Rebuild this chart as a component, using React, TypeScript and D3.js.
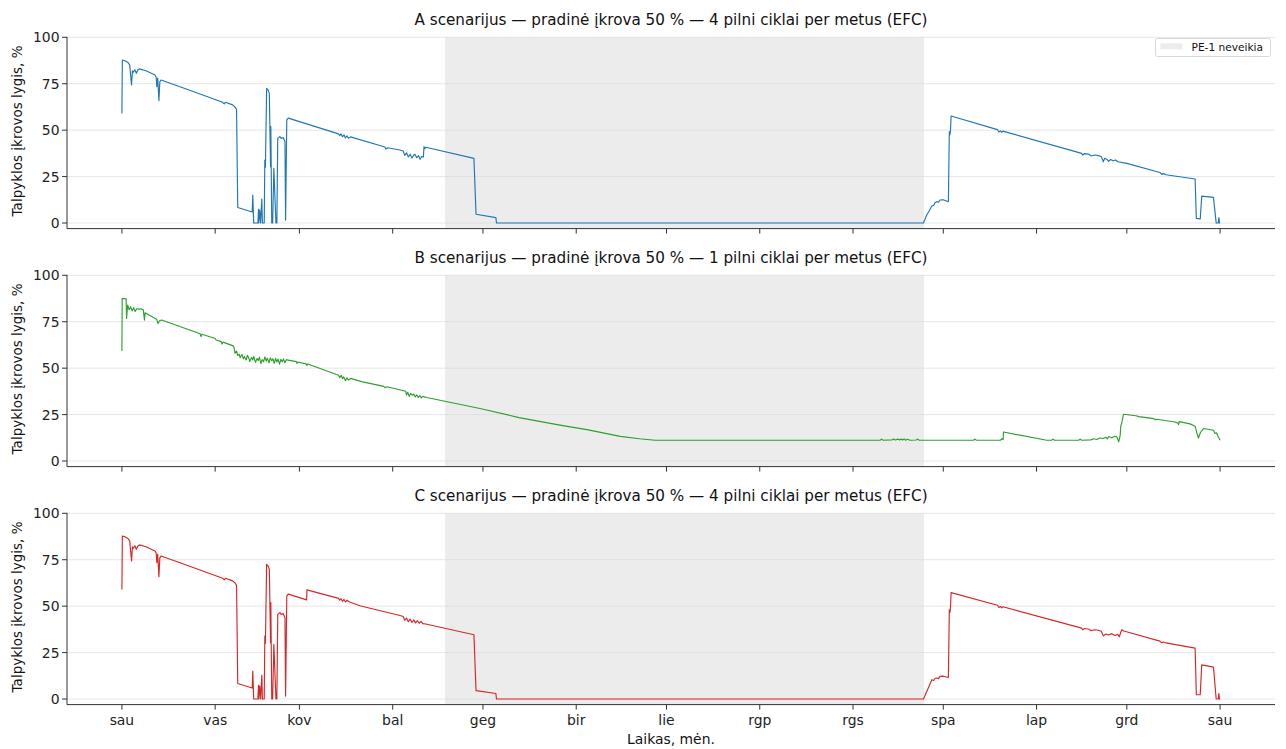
import React from "react";
import * as d3 from "d3";

type P = [number, number];

const monthLabels = ["sau", "vas", "kov", "bal", "geg", "bir", "lie", "rgp", "rgs", "spa", "lap", "grd", "sau"];
const monthDays = [0, 31, 59, 90, 120, 151, 181, 212, 243, 273, 304, 334, 365];
const yTicks = [0, 25, 50, 75, 100];
const outageSpan: P = [107.4, 266.6];
const legendLabel = "PE-1 neveikia";
const titles = [
  "A scenarijus — pradinė įkrova 50 % — 4 pilni ciklai per metus (EFC)",
  "B scenarijus — pradinė įkrova 50 % — 1 pilni ciklai per metus (EFC)",
  "C scenarijus — pradinė įkrova 50 % — 4 pilni ciklai per metus (EFC)",
];
const colors = ["#1f77b4", "#2ca02c", "#d62728"];

const startCommon: P[] = [
  [0, 59], [0.15, 87.8], [1.2, 87.2], [2.1, 86.3], [2.6, 85], [3.2, 74.3], [3.5, 82], [3.8, 81.2],
  [4.3, 82.5], [4.8, 80.6], [5.3, 82.4], [5.8, 83], [8, 82], [11, 79.7], [11.4, 78.5], [11.6, 73.4],
  [11.9, 78], [12.3, 65.9], [12.6, 76], [13, 77], [20, 73], [28, 68.3], [33.5, 65], [34, 64.2],
  [34.4, 65], [36.8, 63.6], [37.6, 62.5], [38.1, 61.2], [38.5, 8.4], [43.3, 5.9], [43.5, 15], [43.8, 0],
  [45.2, 0], [45.4, 7.4], [45.5, 0], [45.8, 7], [46.1, 0], [46.5, 12.9], [46.7, 0], [47.3, 0],
  [47.5, 33.9], [47.7, 30], [48.1, 72.5], [48.6, 71.6], [49, 69.8], [49.4, 30.3], [49.5, 51.9], [49.8, 0],
  [50.1, 0], [50.5, 29.4], [51.2, 0], [51.5, 0], [51.8, 45.6], [52.5, 46.5], [53, 45.5], [53.6, 46],
  [54.2, 43.8], [54.4, 1.6], [54.8, 55.5], [55.3, 56.5],
];

const seriesA: P[] = [
  ...startCommon,
  [69.1, 49.5], [72, 48], [72.4, 47], [72.8, 48], [73.3, 46.4], [73.8, 47.5], [74.3, 45.8], [74.8, 47],
  [75.3, 45.6], [76, 46.4], [87.4, 40.9], [87.8, 39.8], [88.2, 40.5], [92.4, 39.3], [93.5, 38.8],
  [94, 36.4], [94.6, 37.8], [95.2, 35.6], [95.8, 37], [96.4, 35], [97, 36.6], [97.4, 37], [98, 35.2],
  [98.6, 36.3], [99.1, 34.3], [99.6, 35.8], [100.2, 35.5], [100.4, 41.1], [100.7, 40], [101, 40.8],
  [117, 34.8], [117.7, 4.7], [124.3, 2.9], [124.5, 0], [266.4, 0], [267.5, 4.3], [268.3, 6.5],
  [269.2, 9.2], [269.8, 9.5], [270.3, 11], [270.8, 11.5], [271.4, 11.2], [271.9, 12.4], [273, 12.5],
  [274.7, 11.5], [275, 49.2], [275.2, 47.5], [275.4, 50], [275.6, 57.6], [291, 50.3], [291.5, 49],
  [292, 49.6], [292.4, 48.8], [292.8, 49.5], [319, 37.5], [319.3, 36.6], [320, 37.4], [321.5, 37],
  [322, 36.1], [323.5, 36.6], [324.5, 36.3], [325.5, 35.8], [326.2, 33], [326.6, 34.8], [327.4, 34.3],
  [328, 33.2], [328.6, 34.2], [329.5, 33.5], [330.3, 33.9], [331, 33], [334, 32.1], [345, 27.2],
  [345.6, 26.2], [346.2, 26.6], [347, 26], [356.7, 23.7], [357.1, 2.5], [358.4, 2.2], [358.9, 14.5],
  [362.8, 13.8], [363.7, 0], [364.4, 0], [364.6, 3], [364.8, 0], [365, 0],
];

const seriesB: P[] = [
  [0, 59.2], [0.1, 87.6], [1.4, 87.4], [1.55, 76.8], [1.9, 84], [2.4, 81.5], [2.9, 83], [3.4, 80.8],
  [3.9, 82.6], [4.4, 80.5], [4.9, 82], [5.5, 81.8], [6.3, 82], [7.1, 81.4], [7.5, 75.9], [7.7, 79.8],
  [11.5, 76.4], [12, 74.1], [12.5, 75.5], [13.2, 75.9], [26, 68.5], [26.3, 67], [26.6, 68.3], [31, 66],
  [31.3, 65.2], [33, 64.3], [33.3, 63], [33.6, 64], [37, 62], [37.3, 61], [37.6, 58], [38.1, 59.2],
  [38.5, 56.8], [39, 57.6], [39.3, 55.6], [39.9, 57.4], [40.4, 55], [40.7, 56.2], [41.3, 54.4],
  [41.7, 56.9], [42.2, 55.3], [42.5, 53.6], [43.1, 55.8], [43.5, 54.5], [43.8, 56.3], [44.4, 53.1],
  [44.9, 55.2], [45.3, 54.1], [45.7, 55.9], [46.2, 52.4], [46.6, 54.6], [47.1, 53.5], [47.5, 56.1],
  [48, 53.8], [48.3, 55.4], [48.9, 52.9], [49.3, 55.6], [49.8, 54], [50.2, 55.1], [50.6, 52.6],
  [51.1, 55.3], [51.5, 53.3], [51.9, 54.9], [52.4, 52.2], [52.8, 54.7], [53.3, 53.5], [53.7, 55],
  [54.2, 52.9], [54.7, 54.6], [55.3, 54.3], [58, 53.5], [58.2, 52.5], [58.5, 53.3], [61.2, 52.3],
  [61.5, 51.4], [61.8, 52.2], [72, 46.2], [72.4, 44.9], [72.9, 46.1], [73.3, 44.4], [73.7, 45.3],
  [74.3, 43.3], [74.8, 44.8], [75.3, 43.6], [76, 44.5], [80, 42.6], [87, 40.2], [87.5, 39.4], [88, 40],
  [90.2, 39.2], [94.3, 37.6], [94.6, 35.6], [95, 37], [95.5, 34.8], [96, 36.5], [96.5, 35.5], [97, 36],
  [97.5, 34.5], [98, 35.6], [98.5, 34.2], [99, 35.2], [99.5, 34], [100, 34.8], [101.3, 34.2], [119, 28.3],
  [132, 23.4], [145.6, 19.3], [155, 16.8], [165.6, 13.3], [172, 12], [177.2, 11.2], [252, 11.2],
  [252.5, 11.8], [253, 11.2], [256, 11.4], [256.5, 11.9], [257, 11.3], [258, 11.8], [258.5, 11.3],
  [259, 11.9], [259.5, 11.3], [260, 11.9], [260.5, 11.2], [261, 11.7], [262, 11.2], [264, 11.3],
  [264.5, 11.8], [265, 11.2], [283, 11.2], [283.5, 11.8], [284, 11.2], [292, 11.2], [292.5, 12],
  [292.9, 11.5], [293, 15.6], [307.4, 11.2], [309, 11.2], [309.5, 11.8], [310, 11.2], [318, 11.2],
  [318.5, 11.8], [319, 11.2], [322, 11.4], [323, 12], [324, 11.6], [325, 12.4], [326.1, 12.1], [327, 12.8],
  [327.5, 11.9], [328, 13.2], [329, 12.5], [330, 13.3], [330.7, 13], [331.3, 10.3], [331.8, 14], [332, 19],
  [332.3, 20.2], [332.5, 22], [332.9, 25.2], [337, 24.4], [338, 23.9], [343, 22.8], [343.5, 22.2],
  [344, 22.5], [350, 21], [351, 20.4], [351.2, 19.6], [351.4, 21.2], [355, 20], [356.7, 18.7],
  [357.3, 15], [357.8, 12.4], [358.5, 15.5], [359.5, 17.5], [362.8, 16.6], [363.3, 14.8], [363.8, 15.2],
  [364.3, 13.3], [365, 11.2],
];

const seriesC: P[] = [
  ...startCommon,
  [61.4, 53.4], [61.5, 58.8], [72, 54.2], [72.4, 53.2], [72.8, 54], [73.3, 52.6], [73.8, 53.6],
  [74.3, 52.2], [74.8, 53.2], [75.5, 52.4], [79.1, 50.2], [92.4, 45], [93.5, 44.4], [94, 42.4],
  [94.6, 43.6], [95.2, 41.6], [95.8, 43], [96.4, 41.2], [97, 42.6], [97.6, 41], [98.2, 42.2],
  [98.8, 40.8], [99.4, 41.8], [100, 40.6], [101, 40.4], [117, 34.6], [117.7, 4.5], [124.3, 3],
  [124.5, 0], [266.4, 0], [267.5, 4.1], [268.3, 7], [269.2, 10.4], [269.8, 10], [270.3, 11.2],
  [270.8, 11.3], [271.4, 11], [271.9, 12.2], [273, 12.3], [274.7, 11.6], [275, 48], [275.2, 46.5],
  [275.4, 49.5], [275.6, 57.3], [291, 50.5], [291.5, 49.3], [292, 49.9], [292.4, 49.1], [292.8, 49.7],
  [319, 38.2], [319.3, 37.3], [320, 38], [321.5, 37.6], [322, 36.8], [323.5, 37.3], [324.5, 37],
  [325.5, 36.5], [326.2, 34], [327, 35], [328, 34.5], [329, 35.2], [330, 34.2], [331, 34.8],
  [331.5, 33.5], [332.3, 37.3], [333, 36.6], [345, 31.2], [345.6, 30.3], [346.2, 30.7], [347, 30.2],
  [356.7, 27.4], [357.1, 2.3], [358.4, 2.3], [358.9, 18.4], [362.8, 17.2], [363.7, 0], [364.4, 0],
  [364.6, 3], [364.8, 0], [365, 0],
];

const allSeries = [seriesA, seriesB, seriesC];

const W = 1286;
const H = 749;
const plotLeft = 67;
const plotRight = 1275;
const panelTops = [37.3, 275.3, 513.3];
const panelH = 191.3;
const font = "DejaVu Sans, sans-serif";

export default function App() {
  const x = d3.scaleLinear().domain([-18.25, 383.25]).range([plotLeft, plotRight]);

  return (
    <svg
      width={W}
      height={H}
      style={{ position: "absolute", left: 0, top: 0, background: "#fff" }}
      fontFamily={font}
    >
      {allSeries.map((data, i) => {
        const top = panelTops[i];
        const bottom = top + panelH;
        const y = d3.scaleLinear().domain([-3, 100]).range([bottom, top]);
        const line = d3
          .line<P>()
          .x((d) => x(d[0]))
          .y((d) => y(d[1]));
        return (
          <g key={i}>
            {yTicks.map((t) => (
              <line key={t} x1={plotLeft} x2={plotRight} y1={y(t)} y2={y(t)} stroke="#e6e6e6" strokeWidth={1} />
            ))}
            <rect
              x={x(outageSpan[0])}
              y={top}
              width={x(outageSpan[1]) - x(outageSpan[0])}
              height={panelH}
              fill="#d9d9d9"
              fillOpacity={0.5}
            />
            <path d={line(data) || ""} fill="none" stroke={colors[i]} strokeWidth={1.15} strokeLinejoin="round" />
            <line x1={plotLeft} x2={plotLeft} y1={top - 0.5} y2={bottom} stroke="#333" strokeWidth={1} />
            <line x1={plotLeft} x2={plotRight} y1={bottom} y2={bottom} stroke="#333" strokeWidth={1} />
            {yTicks.map((t) => (
              <g key={t}>
                <line x1={plotLeft - 5} x2={plotLeft} y1={y(t)} y2={y(t)} stroke="#333" strokeWidth={1} />
                <text x={plotLeft - 7.5} y={y(t)} dy="0.36em" textAnchor="end" fontSize={13.9} fill="#222">
                  {t}
                </text>
              </g>
            ))}
            {monthDays.map((d, k) => (
              <line key={k} x1={x(d)} x2={x(d)} y1={bottom} y2={bottom + 5} stroke="#333" strokeWidth={1} />
            ))}
            <text x={(plotLeft + plotRight) / 2} y={top - 12.5} textAnchor="middle" fontSize={15.2} fill="#111">
              {titles[i]}
            </text>
            <text
              transform={`translate(${22},${(top + bottom) / 2 - 2}) rotate(-90)`}
              textAnchor="middle"
              fontSize={13.5}
              fill="#111"
            >
              Talpyklos įkrovos lygis, %
            </text>
            {i === 2 &&
              monthDays.map((d, k) => (
                <text key={k} x={x(d)} y={bottom + 20.5} textAnchor="middle" fontSize={13.9} fill="#222">
                  {monthLabels[k]}
                </text>
              ))}
            {i === 2 && (
              <text x={(plotLeft + plotRight) / 2} y={bottom + 39.5} textAnchor="middle" fontSize={13.9} fill="#111">
                Laikas, mėn.
              </text>
            )}
            {i === 0 && (
              <g>
                <rect x={1155.5} y={38.5} width={115} height={18} rx={2} fill="#fff" fillOpacity={0.85} stroke="#d8d8d8" />
                <rect x={1160.5} y={43.3} width={22} height={6} fill="#d9d9d9" fillOpacity={0.5} />
                <text x={1191.5} y={47} dy="0.35em" fontSize={10.6} fill="#111">
                  {legendLabel}
                </text>
              </g>
            )}
          </g>
        );
      })}
    </svg>
  );
}
